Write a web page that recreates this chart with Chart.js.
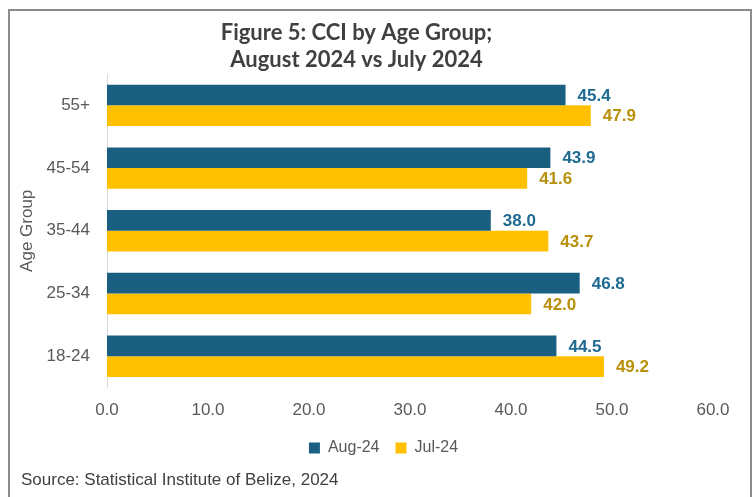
<!DOCTYPE html>
<html lang="en">
<head>
  <meta charset="UTF-8" />
  <title>Figure 5: CCI by Age Group</title>
  <style>
    body {
      margin: 0;
      background: #fff;
      width: 754px;
      height: 497px;
      overflow: hidden;
      position: relative;
      font-family: "Liberation Sans", Arial, sans-serif;
    }
    #frame {
      position: absolute;
      left: 8px;
      top: 9px;
      width: 740px;
      height: 500px;
      border: 2px solid #8c8c8c;
      border-bottom: none;
      pointer-events: none;
    }
    #chart {
      position: absolute;
      left: 0;
      top: 0;
    }
    .source {
      position: absolute;
      left: 21px;
      top: 470px;
      font-size: 17px;
      color: #404040;
    }
  </style>
</head>
<body>

  <canvas id="chart" width="754" height="470"></canvas>
  <div id="frame"></div>
  <div class="source">Source: Statistical Institute of Belize, 2024</div>

  <script src="https://cdn.jsdelivr.net/npm/chart.js"></script>

  <script>
    // age groups, top to bottom as in the figure
    const ageGroups = ['55+', '45-54', '35-44', '25-34', '18-24'];
    const aug24 = [45.4, 43.9, 38.0, 46.8, 44.5];
    const jul24 = [47.9, 41.6, 43.7, 42.0, 49.2];
    const xTicks = [0, 10, 20, 30, 40, 50, 60];

    const labelColors = ['#1f6a91', '#b8900a'];

    // value labels at the end of each bar
    const barLabels = {
      id: 'barLabels',
      afterDatasetsDraw(chart) {
        const ctx = chart.ctx;
        ctx.save();
        ctx.font = 'bold 17px "Liberation Sans", Arial, sans-serif';
        ctx.textAlign = 'left';
        ctx.textBaseline = 'middle';
        chart.data.datasets.forEach((ds, i) => {
          const meta = chart.getDatasetMeta(i);
          ctx.fillStyle = labelColors[i];
          meta.data.forEach((bar, j) => {
            ctx.fillText(ds.data[j].toFixed(1), bar.x + 12, bar.y + 1);
          });
        });
        ctx.restore();
      }
    };

    // legend sits a bit right of the canvas centre in the original
    const legendShift = {
      id: 'legendShift',
      afterLayout(chart) {
        chart.legend.left += 27;
        chart.legend.right += 27;
      }
    };

    new Chart(document.getElementById('chart'), {
      type: 'bar',
      data: {
        labels: ageGroups,
        datasets: [
          { label: 'Aug-24', data: aug24, backgroundColor: '#1a5e80' },
          { label: 'Jul-24', data: jul24, backgroundColor: '#ffc000' }
        ]
      },
      options: {
        indexAxis: 'y',
        responsive: false,
        animation: false,
        layout: { padding: { left: 0, right: 41, bottom: 4 } },
        datasets: {
          bar: { categoryPercentage: 0.66, barPercentage: 1.0 }
        },
        scales: {
          x: {
            min: 0,
            max: 60,
            afterBuildTicks(scale) {
              scale.ticks = xTicks.map(v => ({ value: v }));
            },
            // let the plot reach further down, legend stays put
            afterFit(scale) { scale.height -= 10; },
            grid: { display: false, drawTicks: false },
            border: { display: false },
            ticks: {
              padding: 13,
              color: '#595959',
              font: { family: '"Liberation Sans", Arial, sans-serif', size: 17 },
              callback: v => Number(v).toFixed(1)
            }
          },
          y: {
            afterFit(scale) { scale.width = 107; },
            grid: { display: false, drawTicks: false },
            border: { display: true, color: '#d9d9d9', width: 1 },
            ticks: {
              padding: 17,
              color: '#595959',
              font: { family: '"Liberation Sans", Arial, sans-serif', size: 17 }
            },
            title: {
              display: true,
              text: 'Age Group',
              color: '#595959',
              padding: { top: 17, bottom: 0 },
              font: { family: '"Liberation Sans", Arial, sans-serif', size: 17 }
            }
          }
        },
        plugins: {
          title: {
            display: true,
            text: ['Figure 5: CCI by Age Group;', 'August 2024 vs July 2024'],
            color: '#404040',
            font: { family: 'Lato', weight: 'bold', size: 22, lineHeight: 1.25 },
            padding: { top: 19, bottom: 0 }
          },
          legend: {
            position: 'bottom',
            labels: {
              boxWidth: 11,
              boxHeight: 11,
              padding: 16,
              color: '#595959',
              font: { family: '"Liberation Sans", Arial, sans-serif', size: 16 }
            }
          },
          tooltip: { enabled: false }
        }
      },
      plugins: [barLabels, legendShift]
    });
  </script>

</body>
</html>
